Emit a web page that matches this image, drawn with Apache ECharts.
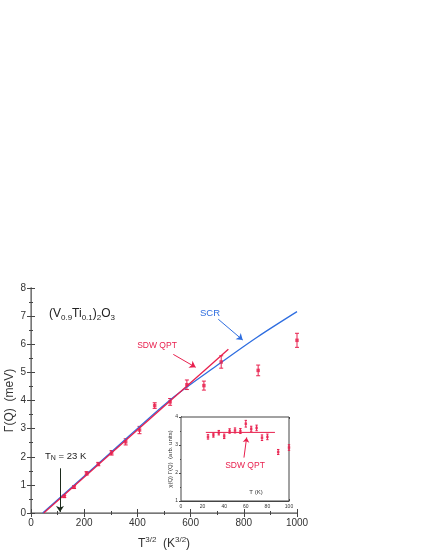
<!DOCTYPE html>
<html>
<head>
<meta charset="utf-8">
<script src="https://cdn.jsdelivr.net/npm/echarts@6/dist/echarts.min.js"></script>
<style>
  html, body { margin: 0; padding: 0; background: #fff; }
  #chart { width: 425px; height: 550px; }
</style>
</head>
<body>
<div id="chart"></div>
<script>
// main panel: linewidth vs T^(3/2)
var mainT = [125, 162, 209, 253, 303, 356, 408, 465, 523, 586, 650, 715, 854, 1000];
var mainGamma = [0.59, 0.92, 1.41, 1.74, 2.14, 2.53, 2.95, 3.82, 3.95, 4.56, 4.53, 5.37, 5.07, 6.14];
var mainErr = [0.04, 0.05, 0.06, 0.06, 0.08, 0.11, 0.13, 0.10, 0.12, 0.17, 0.16, 0.22, 0.19, 0.25];

// SCR curve (blue) and SDW QPT line (red)
var scrT = [44, 300, 523, 700, 850, 1000];
var scrGamma = [0, 2.15, 4.02, 5.25, 6.25, 7.16];
var sdwT = [48, 742];
var sdwGamma = [0, 5.82];

// inset: chi(Q) Gamma(Q) vs T
var insetT = [25, 30, 35, 40, 45, 50, 55, 60, 65, 70, 75, 80, 90, 100];
var insetChi = [3.29, 3.35, 3.44, 3.31, 3.50, 3.52, 3.50, 3.76, 3.58, 3.61, 3.26, 3.29, 2.75, 2.91];
var insetErr = [0.08, 0.07, 0.08, 0.08, 0.08, 0.09, 0.09, 0.12, 0.09, 0.10, 0.10, 0.10, 0.09, 0.10];
var insetLineT = [23, 87];
var insetLineChi = [3.45, 3.45];

var RED = '#e8204e';
var BLUE = '#2f6ee0';
var AXIS = '#444';
var FONT = 'Liberation Sans';

function pairs(xs, ys) {
    return xs.map(function (x, i) { return [x, ys[i]]; });
}
function errData(xs, ys, es) {
    return xs.map(function (x, i) { return [x, ys[i] - es[i], ys[i] + es[i]]; });
}
function errRender(cap) {
    return function (params, api) {
        var lo = api.coord([api.value(0), api.value(1)]);
        var hi = api.coord([api.value(0), api.value(2)]);
        var st = { stroke: RED, lineWidth: 1 };
        return {
            type: 'group',
            children: [
                { type: 'line', shape: { x1: lo[0], y1: lo[1], x2: hi[0], y2: hi[1] }, style: st },
                { type: 'line', shape: { x1: lo[0] - cap, y1: lo[1], x2: lo[0] + cap, y2: lo[1] }, style: st },
                { type: 'line', shape: { x1: hi[0] - cap, y1: hi[1], x2: hi[0] + cap, y2: hi[1] }, style: st }
            ]
        };
    };
}

function axisCommon(min, max, interval, labelSize, showLabel, pos, gridIndex, tickLen, lineColor, lineWidth) {
    return {
        type: 'value', gridIndex: gridIndex, position: pos,
        min: min, max: max, interval: interval,
        nameMoveOverlap: false,
        splitLine: { show: false },
        axisLine: { show: true, lineStyle: { color: lineColor || AXIS, width: lineWidth || 1 } },
        axisTick: { show: true, inside: true, length: tickLen, lineStyle: { color: AXIS } },
        minorTick: { show: true, splitNumber: 2, length: tickLen / 2, lineStyle: { color: AXIS } },
        axisLabel: {
            show: showLabel, color: '#333', fontSize: labelSize, fontFamily: FONT,
            margin: labelSize > 6 ? 5 : 3,
            formatter: function (v) { return String(v); }
        }
    };
}

var chart = echarts.init(document.getElementById('chart'));

var xMain = axisCommon(0, 1000, 200, 10, true, 'bottom', 0, 4);
xMain.name = '{b|T}{s|3/2}{b|  (K}{s|3/2}{b|)}';
xMain.nameLocation = 'middle';
xMain.nameGap = 23;
xMain.nameTextStyle = {
    fontFamily: FONT, color: '#333',
    rich: {
        b: { fontSize: 12, fontFamily: FONT, color: '#333' },
        s: { fontSize: 8, fontFamily: FONT, color: '#333', padding: [0, 0, 8, 0] }
    }
};
var yMain = axisCommon(0, 8, 1, 10, true, 'left', 0, 4);
yMain.name = 'Γ(Q)  (meV)';
yMain.nameLocation = 'middle';
yMain.nameGap = 15;
yMain.nameTextStyle = { fontFamily: FONT, fontSize: 12, color: '#333' };

var xInset = axisCommon(0, 100, 20, 5, true, 'bottom', 1, 2);
var yInset = axisCommon(1, 4, 1, 5, true, 'left', 1, 2);
yInset.name = 'χ(Q) Γ(Q)  (arb. units)';
yInset.nameLocation = 'middle';
yInset.nameGap = 8;
yInset.nameTextStyle = { fontFamily: FONT, fontSize: 6, color: '#333' };

var option = {
    animation: false,
    backgroundColor: '#fff',
    grid: [
        { left: 31, top: 288, width: 266, height: 225, outerBoundsMode: 'none', containLabel: false },
        { left: 181, top: 417, width: 108, height: 84, show: true, borderColor: AXIS, borderWidth: 1, backgroundColor: '#fff', z: 5, outerBoundsMode: 'none', containLabel: false }
    ],
    xAxis: [
        xMain,
        axisCommon(0, 1000, 200, 10, false, 'top', 0, 4, '#888', 1.5),
        xInset,
        axisCommon(0, 100, 20, 5, false, 'top', 1, 2)
    ],
    yAxis: [
        yMain,
        axisCommon(0, 8, 1, 10, false, 'right', 0, 4, '#888', 1.5),
        yInset,
        axisCommon(1, 4, 1, 5, false, 'right', 1, 2)
    ],
    graphic: [
        {
            type: 'text', left: 49, top: 308,
            style: {
                text: '{b|(V}{s|0.9}{b|Ti}{s|0.1}{b|)}{s|2}{b|O}{s|3}',
                rich: {
                    b: { fontSize: 12, fontFamily: FONT, fill: '#222' },
                    s: { fontSize: 8, fontFamily: FONT, fill: '#222', padding: [7, 0, 0, 0] }
                }
            }
        },
        { type: 'text', x: 210, y: 313, style: { text: 'SCR', fill: BLUE, font: '9.5px "Liberation Sans"', textAlign: 'center', textVerticalAlign: 'middle' } },
        { type: 'text', x: 157, y: 346, style: { text: 'SDW QPT', fill: RED, font: '8.5px "Liberation Sans"', textAlign: 'center', textVerticalAlign: 'middle' } },
        {
            type: 'text', left: 45, top: 451,
            style: {
                text: '{b|T}{s|N}{b| = 23 K}',
                rich: {
                    b: { fontSize: 9.5, fontFamily: FONT, fill: '#222' },
                    s: { fontSize: 7, fontFamily: FONT, fill: '#222', padding: [5, 0, 0, 0] }
                }
            }
        },
        { type: 'text', x: 245, y: 466, z: 100, style: { text: 'SDW QPT', fill: RED, font: '8.5px "Liberation Sans"', textAlign: 'center', textVerticalAlign: 'middle' } },
        { type: 'text', x: 256, y: 492, z: 100, style: { text: 'T (K)', fill: '#333', font: '6px "Liberation Sans"', textAlign: 'center', textVerticalAlign: 'middle' } }
    ],
    series: [
        {
            name: 'SCR', type: 'line', xAxisIndex: 0, yAxisIndex: 0,
            data: pairs(scrT, scrGamma), smooth: 0.3, showSymbol: false,
            lineStyle: { color: BLUE, width: 1.3 }
        },
        {
            name: 'SDW QPT', type: 'line', xAxisIndex: 0, yAxisIndex: 0,
            data: pairs(sdwT, sdwGamma), showSymbol: false,
            lineStyle: { color: RED, width: 1.3 },
            markLine: {
                silent: true, symbol: ['none', 'arrow'], symbolSize: 6,
                label: { show: false },
                data: [
                    [{ coord: [704, 6.89], lineStyle: { color: BLUE, width: 1, type: 'solid' } }, { coord: [796, 6.15] }],
                    [{ coord: [535, 5.64], lineStyle: { color: RED, width: 1, type: 'solid' } }, { coord: [619, 5.18] }],
                    [{ coord: [109, 1.59], lineStyle: { color: '#1c2a1c', width: 1, type: 'solid' } }, { coord: [109, 0.04] }]
                ]
            }
        },
        {
            type: 'custom', xAxisIndex: 0, yAxisIndex: 0,
            data: errData(mainT, mainGamma, mainErr),
            renderItem: errRender(2), encode: { x: 0, y: [1, 2] }, z: 3
        },
        {
            type: 'scatter', xAxisIndex: 0, yAxisIndex: 0,
            data: pairs(mainT, mainGamma), symbol: 'rect', symbolSize: 3.5,
            itemStyle: { color: RED }, z: 4
        },
        {
            type: 'line', xAxisIndex: 2, yAxisIndex: 2,
            data: pairs(insetLineT, insetLineChi), showSymbol: false,
            lineStyle: { color: RED, width: 1 }, z: 6,
            markLine: {
                silent: true, symbol: ['none', 'arrow'], symbolSize: 5,
                label: { show: false },
                data: [
                    [{ coord: [58.3, 2.55], lineStyle: { color: RED, width: 1, type: 'solid' } }, { coord: [60.8, 3.27] }]
                ]
            }
        },
        {
            type: 'custom', xAxisIndex: 2, yAxisIndex: 2,
            data: errData(insetT, insetChi, insetErr),
            renderItem: errRender(1.2), encode: { x: 0, y: [1, 2] }, z: 6
        },
        {
            type: 'scatter', xAxisIndex: 2, yAxisIndex: 2,
            data: pairs(insetT, insetChi), symbol: 'rect', symbolSize: 2.5,
            itemStyle: { color: RED }, z: 7
        }
    ]
};
chart.setOption(option);
</script>
</body>
</html>
